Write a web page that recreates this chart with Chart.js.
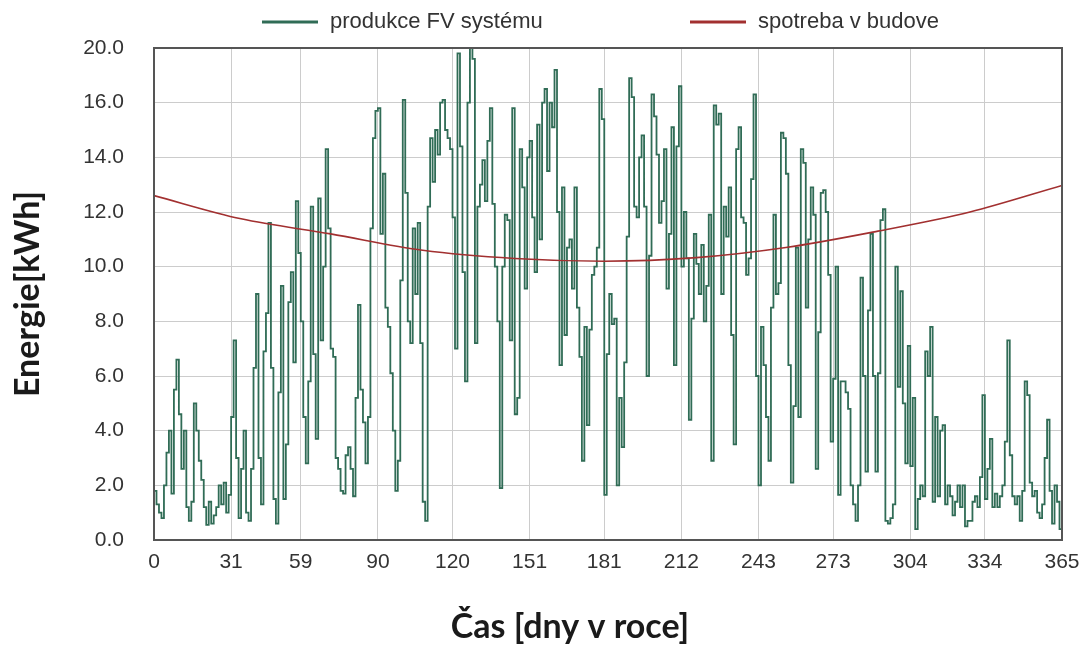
<!DOCTYPE html>
<html>
<head>
<meta charset="utf-8">
<script src="https://cdn.jsdelivr.net/npm/chart.js@4.4.1/dist/chart.umd.min.js"></script>
<style>
    html, body { margin: 0; padding: 0; background: #ffffff; }
    #wrap { width: 1085px; height: 645px; }
</style>
</head>
<body>
<div id="wrap"><canvas id="energyChart" width="1085" height="645"></canvas></div>
<script>
        // denni produkce FV systemu [kWh], den 0..365
        const productionKwh = [
            1.8, 1.3, 1.0, 0.8, 2.0, 3.2, 4.0, 1.7, 5.5, 6.6, 4.6, 2.6, 4.0, 1.2, 0.7,
            1.4, 5.0, 4.0, 2.9, 2.2, 1.2, 0.55, 1.4, 0.6, 0.9, 1.2, 2.0, 1.3, 2.1, 1.0,
            1.65, 4.5, 7.3, 3.0, 0.8, 2.6, 4.0, 1.0, 0.7, 2.6, 6.3, 9.0, 3.0, 1.3, 6.9,
            8.3, 11.6, 6.3, 1.5, 0.6, 5.4, 9.3, 1.5, 3.5, 8.7, 9.8, 6.5, 12.4, 10.5, 8.0,
            4.5, 2.8, 5.8, 12.2, 6.8, 3.7, 12.5, 7.3, 10.0, 14.3, 11.4, 7.0, 6.7, 3.0, 2.6,
            1.8, 1.7, 3.1, 3.4, 2.6, 1.6, 5.2, 8.6, 5.5, 4.3, 2.8, 4.5, 11.4, 14.7, 15.7,
            15.8, 11.2, 13.4, 8.5, 7.8, 6.1, 4.0, 1.8, 2.9, 9.5, 16.1, 12.7, 8.0, 7.2, 11.4,
            9.0, 11.6, 7.2, 1.4, 0.7, 12.2, 14.7, 13.1, 15.0, 14.1, 16.0, 16.1, 15.0, 14.7, 14.3,
            11.8, 7.0, 17.8, 14.4, 9.8, 5.8, 16.0, 18.0, 17.6, 7.2, 12.2, 13.0, 13.9, 12.4, 14.6,
            15.8, 12.3, 10.0, 8.0, 1.9, 10.0, 11.9, 11.7, 7.3, 15.8, 4.6, 5.2, 14.3, 12.9, 9.2,
            14.0, 14.6, 11.8, 9.8, 15.2, 11.0, 16.0, 16.5, 13.5, 16.0, 15.1, 17.2, 12.0, 6.4, 12.9,
            7.5, 10.7, 11.0, 9.2, 12.9, 8.5, 6.7, 2.9, 7.8, 4.2, 7.7, 9.7, 10.0, 10.7, 16.5,
            15.4, 1.65, 6.8, 9.0, 7.9, 8.1, 2.0, 5.2, 3.4, 6.5, 11.1, 16.9, 16.2, 12.2, 11.8,
            14.0, 14.8, 12.2, 6.0, 10.4, 16.3, 15.5, 14.1, 11.6, 12.4, 14.3, 9.2, 11.2, 15.1, 6.4,
            14.4, 16.6, 10.0, 12.0, 10.3, 4.4, 8.1, 11.2, 10.1, 9.0, 10.8, 8.0, 9.3, 11.9, 2.9,
            15.9, 15.2, 15.6, 9.0, 12.2, 11.1, 12.9, 7.5, 3.5, 14.3, 15.1, 11.8, 11.6, 9.7, 10.3,
            13.2, 16.3, 6.0, 2.0, 7.8, 6.4, 4.5, 2.9, 8.5, 11.9, 9.0, 9.4, 14.9, 14.7, 13.4,
            6.4, 2.1, 4.9, 10.7, 4.5, 14.3, 13.8, 8.5, 11.0, 12.9, 11.9, 2.6, 7.6, 12.7, 12.8,
            12.0, 9.7, 3.6, 5.9, 10.0, 1.65, 5.8, 5.8, 5.4, 4.8, 2.0, 1.3, 0.7, 2.0, 9.6,
            6.0, 2.5, 8.4, 11.2, 6.0, 2.5, 6.1, 11.7, 12.1, 0.7, 0.6, 0.8, 1.3, 10.0, 5.6,
            9.1, 5.0, 2.8, 7.1, 2.7, 5.2, 0.4, 1.5, 2.0, 1.6, 6.9, 6.0, 7.8, 1.4, 4.5,
            1.6, 4.0, 4.2, 1.3, 2.0, 1.6, 0.9, 1.4, 2.0, 1.2, 2.0, 0.5, 0.7, 0.7, 1.4,
            1.6, 1.2, 2.3, 5.3, 1.5, 2.6, 3.7, 1.2, 1.7, 1.2, 1.6, 2.0, 3.6, 7.3, 3.1,
            1.6, 1.3, 1.6, 0.7, 1.8, 5.8, 5.3, 2.1, 1.6, 1.8, 1.0, 0.8, 1.3, 3.0, 4.4,
            1.8, 0.6, 2.0, 1.4, 0.4, 0.6
        ];

        // spotreba v budove - odectene body krivky
        const consumptionDays = [0, 35, 71, 108, 145, 181, 218, 254, 291, 328, 365];
        const consumptionKwh = [12.6, 11.75, 11.2, 10.6, 10.3, 10.2, 10.33, 10.7, 11.3, 12.0, 12.97];

        // popisky os
        const dayTicks = [0, 31, 59, 90, 120, 151, 181, 212, 243, 273, 304, 334, 365];
        const yTickValues = [0, 2, 4, 6, 8, 10, 12, 14, 16, 18];
        const yTickLabels = ['0.0', '2.0', '4.0', '6.0', '8.0', '10.0', '12.0', '14.0', '16.0', '20.0'];
        const seriesNames = ['produkce FV systému', 'spotreba v budove'];
        const seriesColors = ['#306c56', '#a23030'];
        const xTitle = 'Čas [dny v roce]';

        const tickFont = { family: "'Liberation Sans', Arial, sans-serif", size: 21 };
        const titleFamily = "Lato, 'Open Sans', sans-serif";

        // ramecek kolem plochy grafu
        const frameBox = {
            id: 'frameBox',
            afterDraw(chart) {
                const { ctx, chartArea } = chart;
                ctx.save();
                ctx.strokeStyle = '#555555';
                ctx.lineWidth = 2;
                ctx.strokeRect(chartArea.left, chartArea.top, chartArea.right - chartArea.left, chartArea.bottom - chartArea.top);
                ctx.restore();
            }
        };

        // legenda nahore + popis osy x (v originalu posunuty doleva od stredu)
        const topLegend = {
            id: 'topLegend',
            afterDraw(chart) {
                const { ctx, chartArea } = chart;
                const y = 22;
                const starts = [chartArea.left + 108, chartArea.left + 536];
                ctx.save();
                ctx.font = "22px 'Liberation Sans', Arial, sans-serif";
                ctx.textBaseline = 'middle';
                seriesNames.forEach((name, i) => {
                    ctx.strokeStyle = seriesColors[i];
                    ctx.lineWidth = 3;
                    ctx.beginPath();
                    ctx.moveTo(starts[i], y);
                    ctx.lineTo(starts[i] + 56, y);
                    ctx.stroke();
                    ctx.fillStyle = '#333333';
                    ctx.fillText(name, starts[i] + 68, y);
                });

                ctx.font = 'bold 34px ' + titleFamily;
                ctx.fillStyle = '#1a1a1a';
                ctx.textAlign = 'center';
                ctx.fillText(xTitle, chartArea.left + 416, 627);
                ctx.restore();
            }
        };

        document.addEventListener('DOMContentLoaded', function() {
            const ctx = document.getElementById('energyChart');
            new Chart(ctx, {
                type: 'line',
                data: {
                    datasets: [{
                        label: seriesNames[0],
                        data: productionKwh.map((v, i) => ({ x: i, y: v })),
                        borderColor: seriesColors[0],
                        borderWidth: 1.8,
                        pointRadius: 0,
                        stepped: true,
                        order: 2
                    }, {
                        label: seriesNames[1],
                        data: consumptionDays.map((d, i) => ({ x: d, y: consumptionKwh[i] })),
                        borderColor: seriesColors[1],
                        borderWidth: 1.6,
                        pointRadius: 0,
                        cubicInterpolationMode: 'monotone',
                        order: 1
                    }]
                },
                options: {
                    responsive: false,
                    animation: false,
                    layout: { autoPadding: false, padding: { top: 48, right: 23, left: 0, bottom: 0 } },
                    plugins: {
                        legend: { display: false },
                        tooltip: { enabled: false }
                    },
                    scales: {
                        x: {
                            type: 'linear',
                            min: 0,
                            max: 365,
                            afterBuildTicks: function(scale) {
                                scale.ticks = dayTicks.map(v => ({ value: v }));
                            },
                            afterFit: function(scale) {
                                scale.height = 105;
                                scale.paddingLeft = 0;
                                scale.paddingRight = 0;
                            },
                            ticks: {
                                autoSkip: false,
                                maxRotation: 0,
                                padding: 10,
                                color: '#333333',
                                font: tickFont,
                                callback: function(value) { return String(value); }
                            },
                            grid: { color: '#cccccc', lineWidth: 1, drawTicks: false },
                            border: { display: false },
                            title: { display: false }
                        },
                        y: {
                            type: 'linear',
                            min: 0,
                            max: 18,
                            afterBuildTicks: function(scale) {
                                scale.ticks = yTickValues.map(v => ({ value: v }));
                            },
                            afterFit: function(scale) { scale.width = 154; },
                            ticks: {
                                padding: 30,
                                color: '#333333',
                                font: tickFont,
                                callback: function(value, index) { return yTickLabels[index]; }
                            },
                            grid: { color: '#cccccc', lineWidth: 1, drawTicks: false },
                            border: { display: false },
                            title: {
                                display: true,
                                text: 'Energie[kWh]',
                                color: '#1a1a1a',
                                font: { family: titleFamily, size: 34, weight: 'bold', lineHeight: 1.0 },
                                padding: { top: 11, bottom: 0 }
                            }
                        }
                    }
                },
                plugins: [frameBox, topLegend]
            });
        });
</script>
</body>
</html>
